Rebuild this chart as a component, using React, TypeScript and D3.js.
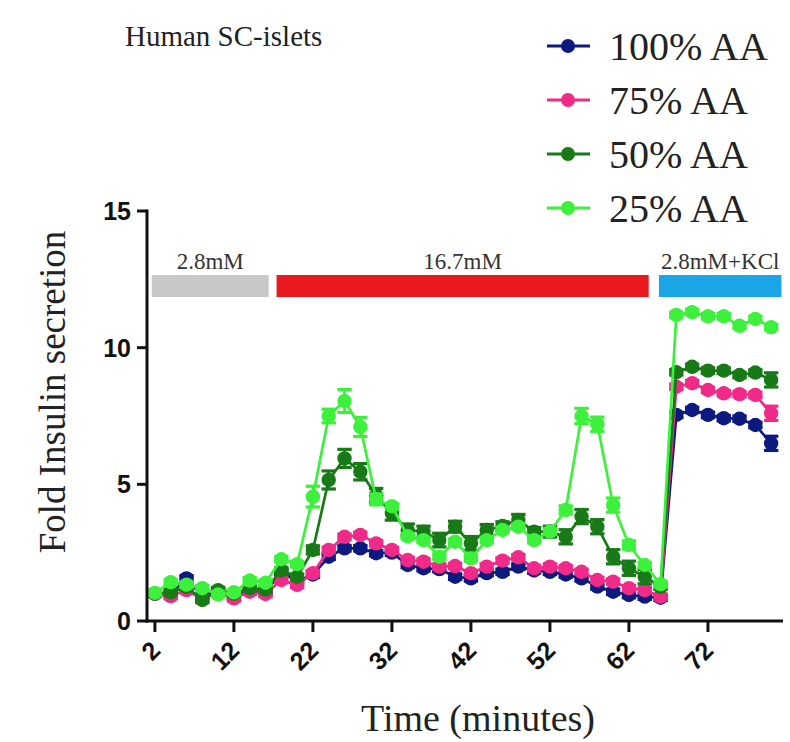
import React from "react";
import * as d3 from "d3";

const TIMES = [2, 4, 6, 8, 10, 12, 14, 16, 18, 20, 22, 24, 26, 28, 30, 32, 34, 36, 38, 40, 42, 44, 46, 48, 50, 52, 54, 56, 58, 60, 62, 64, 66, 68, 70, 72, 74, 76, 78, 80];

const AA100 = [1.0, 1.0, 1.56, 0.9, 1.1, 0.9, 1.1, 1.05, 1.8, 1.45, 1.7, 2.35, 2.66, 2.66, 2.48, 2.5, 2.05, 1.93, 1.9, 1.62, 1.56, 1.75, 1.8, 1.99, 1.85, 1.8, 1.7, 1.56, 1.26, 1.07, 0.95, 0.89, 0.85, 7.54, 7.72, 7.54, 7.42, 7.4, 7.17, 6.5];
const AA75 = [1.0, 0.91, 1.13, 0.8, 1.05, 0.83, 1.07, 0.99, 1.5, 1.32, 1.75, 2.6, 3.08, 3.15, 2.84, 2.6, 2.23, 2.17, 1.99, 2.01, 1.75, 1.99, 2.21, 2.33, 1.93, 1.99, 1.93, 1.8, 1.5, 1.44, 1.2, 1.13, 0.89, 8.57, 8.7, 8.45, 8.33, 8.3, 8.27, 7.6];
const AA50 = [1.0, 1.05, 1.25, 0.77, 1.13, 1.0, 1.2, 1.15, 1.85, 1.62, 2.6, 5.16, 5.95, 5.46, 4.6, 3.94, 3.33, 3.27, 2.96, 3.45, 2.84, 3.33, 3.48, 3.7, 3.27, 3.27, 3.08, 3.82, 3.45, 2.35, 1.93, 1.62, 1.25, 9.1, 9.3, 9.16, 9.16, 9.0, 9.09, 8.82];
const AA25 = [1.03, 1.42, 1.33, 1.2, 0.97, 1.05, 1.48, 1.4, 2.26, 2.08, 4.55, 7.5, 8.05, 7.1, 4.45, 4.2, 3.1, 2.96, 2.35, 2.9, 2.29, 2.96, 3.33, 3.45, 2.96, 3.27, 4.06, 7.5, 7.2, 4.24, 2.78, 2.05, 1.35, 11.2, 11.3, 11.15, 11.15, 10.8, 11.05, 10.75];

const SEM100 = [0.1, 0.1, 0.1, 0.1, 0.1, 0.1, 0.1, 0.1, 0.1, 0.1, 0.1, 0.1, 0.1, 0.1, 0.1, 0.1, 0.1, 0.1, 0.1, 0.1, 0.1, 0.1, 0.1, 0.1, 0.1, 0.1, 0.1, 0.1, 0.1, 0.1, 0.1, 0.1, 0.1, 0.1, 0.1, 0.1, 0.1, 0.1, 0.1, 0.26];
const SEM75 = [0.1, 0.1, 0.1, 0.1, 0.1, 0.1, 0.1, 0.1, 0.1, 0.1, 0.1, 0.1, 0.1, 0.1, 0.1, 0.1, 0.1, 0.1, 0.1, 0.1, 0.1, 0.1, 0.1, 0.1, 0.1, 0.1, 0.1, 0.1, 0.1, 0.1, 0.1, 0.1, 0.1, 0.1, 0.1, 0.1, 0.1, 0.1, 0.1, 0.26];
const SEM50 = [0.1, 0.1, 0.1, 0.1, 0.1, 0.1, 0.1, 0.1, 0.1, 0.1, 0.15, 0.33, 0.33, 0.3, 0.25, 0.25, 0.22, 0.2, 0.25, 0.2, 0.25, 0.2, 0.15, 0.2, 0.15, 0.2, 0.26, 0.26, 0.26, 0.26, 0.26, 0.26, 0.1, 0.1, 0.1, 0.1, 0.1, 0.1, 0.1, 0.26];
const SEM25 = [0.1, 0.1, 0.1, 0.1, 0.1, 0.1, 0.1, 0.1, 0.1, 0.1, 0.38, 0.25, 0.42, 0.35, 0.2, 0.1, 0.1, 0.1, 0.1, 0.1, 0.1, 0.1, 0.1, 0.1, 0.1, 0.1, 0.15, 0.28, 0.26, 0.26, 0.15, 0.1, 0.1, 0.1, 0.1, 0.1, 0.1, 0.1, 0.1, 0.1];

const SERIES_NAMES = ["100% AA", "75% AA", "50% AA", "25% AA"];
const SERIES_COLORS = ["#0c1a80", "#f02a88", "#177a17", "#3cf03c"];
const SERIES_VALUES = [AA100, AA75, AA50, AA25];
const SERIES_SEM = [SEM100, SEM75, SEM50, SEM25];

const X_TICKS = [2, 12, 22, 32, 42, 52, 62, 72];
const Y_TICKS = [0, 5, 10, 15];

const PHASE_LABELS = ["2.8mM", "16.7mM", "2.8mM+KCl"];
const PHASE_START = [1.6, 17.4, 65.8];
const PHASE_END = [16.4, 64.5, 81.3];
const PHASE_COLORS = ["#c8c8c8", "#e8191f", "#1aa6e6"];

const TITLE = "Human SC-islets";
const X_TITLE = "Time (minutes)";
const Y_TITLE = "Fold Insulin secretion";

const SERIF = "'Liberation Serif', 'Times New Roman', serif";
const SANS = "'Liberation Sans', Arial, sans-serif";

export default function App() {
  const W = 790;
  const H = 742;
  const x = d3.scaleLinear().domain([1, 81.5]).range([147, 783]);
  const y = d3.scaleLinear().domain([0, 15]).range([621, 211]);
  const r = 7.2;
  const sw = 2.7;

  const line = d3
    .line<number>()
    .x((_, i) => x(TIMES[i]))
    .y((d) => y(d));

  return (
    <svg
      width={W}
      height={H}
      style={{ position: "absolute", left: 0, top: 0, display: "block", background: "#fff" }}
    >
      <rect x={0} y={0} width={W} height={H} fill="#fff" />
      {/* title */}
      <text x={125} y={46} fontFamily={SERIF} fontSize={29} fill="#222">
        {TITLE}
      </text>

      {/* legend */}
      {SERIES_NAMES.map((name, i) => {
        const cy = 46 + i * 54;
        return (
          <g key={name}>
            <line x1={547} x2={590} y1={cy} y2={cy} stroke={SERIES_COLORS[i]} strokeWidth={3} />
            <circle cx={568} cy={cy} r={7} fill={SERIES_COLORS[i]} />
            <text x={609} y={cy + 14} fontFamily={SERIF} fontSize={40} fill="#222">
              {name}
            </text>
          </g>
        );
      })}

      {/* phase bars */}
      {PHASE_LABELS.map((lab, i) => {
        const x0 = x(PHASE_START[i]);
        const x1 = x(PHASE_END[i]);
        return (
          <g key={lab}>
            <rect x={x0} y={275} width={x1 - x0} height={22} fill={PHASE_COLORS[i]} />
            <text
              x={(x0 + x1) / 2}
              y={269}
              textAnchor="middle"
              fontFamily={SERIF}
              fontSize={23}
              fill="#333"
            >
              {lab}
            </text>
          </g>
        );
      })}

      {/* series */}
      {SERIES_VALUES.map((vals, si) => {
        const color = SERIES_COLORS[si];
        const sem = SERIES_SEM[si];
        return (
          <g key={SERIES_NAMES[si]}>
            <path d={line(vals) || ""} fill="none" stroke={color} strokeWidth={sw} />
            {vals.map((v, i) => {
              const cx = x(TIMES[i]);
              const yt = y(v + sem[i]);
              const yb = y(v - sem[i]);
              return (
                <g key={i}>
                  <line x1={cx} x2={cx} y1={yt} y2={yb} stroke={color} strokeWidth={sw} />
                  <line x1={cx - r} x2={cx + r} y1={yt} y2={yt} stroke={color} strokeWidth={sw + 0.5} />
                  <line x1={cx - r} x2={cx + r} y1={yb} y2={yb} stroke={color} strokeWidth={sw + 0.5} />
                  <circle cx={cx} cy={y(v)} r={r} fill={color} />
                </g>
              );
            })}
          </g>
        );
      })}

      {/* axes */}
      <line x1={147} x2={147} y1={y(15) - 1.5} y2={y(0) + 1.5} stroke="#111" strokeWidth={3} />
      <line x1={145.5} x2={783} y1={y(0)} y2={y(0)} stroke="#111" strokeWidth={3} />
      {Y_TICKS.map((t) => (
        <g key={t}>
          <line x1={137} x2={147} y1={y(t)} y2={y(t)} stroke="#111" strokeWidth={3} />
          <text
            x={131}
            y={y(t)}
            dy="0.36em"
            textAnchor="end"
            fontFamily={SANS}
            fontWeight="bold"
            fontSize={25}
            fill="#111"
          >
            {t}
          </text>
        </g>
      ))}
      {X_TICKS.map((t) => (
        <g key={t}>
          <line x1={x(t)} x2={x(t)} y1={y(0)} y2={y(0) + 11} stroke="#111" strokeWidth={3} />
          <text
            transform={`translate(${x(t) + 7},${y(0) + 31}) rotate(-45)`}
            textAnchor="end"
            fontFamily={SANS}
            fontWeight="bold"
            fontSize={25}
            fill="#111"
          >
            {t}
          </text>
        </g>
      ))}

      {/* axis titles */}
      <text x={478} y={731} textAnchor="middle" fontFamily={SERIF} fontSize={38} fill="#222">
        {X_TITLE}
      </text>
      <text
        transform={`translate(65,${392}) rotate(-90)`}
        textAnchor="middle"
        fontFamily={SERIF}
        fontSize={37}
        fill="#222"
      >
        {Y_TITLE}
      </text>
    </svg>
  );
}
